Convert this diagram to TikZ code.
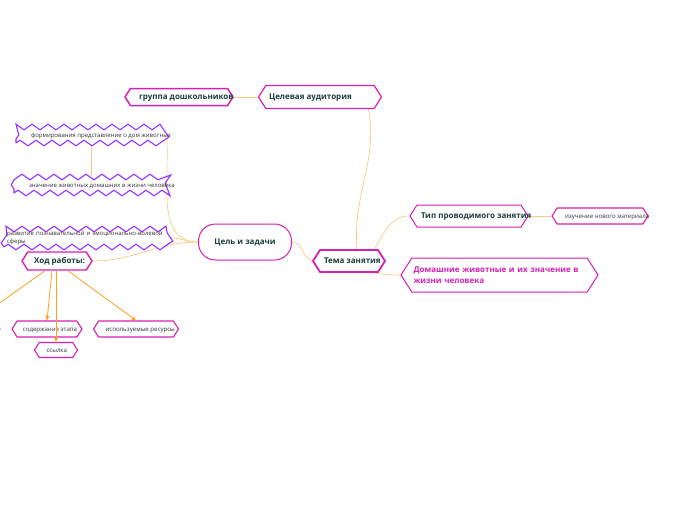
\documentclass[tikz,border=0pt]{standalone}
\usepackage{fontspec}
\setmainfont{Open Sans}
\usetikzlibrary{shapes.symbols,shapes.misc,decorations.pathmorphing,arrows.meta,backgrounds}
\definecolor{mag}{HTML}{D61FB4}
\definecolor{zig}{HTML}{9B30FF}
\definecolor{conn}{HTML}{FFC983}
\definecolor{arr}{HTML}{FFA21A}
\definecolor{tx}{HTML}{1B3F3C}
\definecolor{sm}{HTML}{333333}
\newcommand{\lft}[2]{\makebox[#1pt][l]{#2}}
\tikzset{
  hexbox/.style={signal, signal to=west and east, signal pointer angle=115, draw=mag, line width=1.2pt, fill=white, inner sep=1pt, align=left, font=\fontsize{8}{10}\selectfont\bfseries, text=tx},
  onebig/.style={text height=5.8pt, text depth=0pt},
  onesmall/.style={text height=4.4pt, text depth=0pt},
  hexsmall/.style={hexbox, onesmall, line width=1.1pt, font=\fontsize{6.1}{7}\selectfont, text=sm},
  zigbox/.style={draw=zig, line width=1.1pt, fill=white, decorate, decoration={zigzag, amplitude=2.8pt, segment length=16pt}, font=\fontsize{6}{7.5}\selectfont, text=sm, inner sep=0pt, align=left},
  conline/.style={draw=conn, line width=0.7pt},
  arrline/.style={draw=arr, line width=0.8pt, -{Stealth[length=5pt,width=4.5pt]}},
}
\begin{document}
\begin{tikzpicture}[x=1pt,y=-1pt]
\useasboundingbox (0,0) rectangle (696,520);
\path
  node[hexbox, onebig, minimum width=108, minimum height=17, line width=1.5pt] (grp) at (179,97) {\lft{80}{группа дошкольников}}
  node[hexbox, onebig, minimum width=123, minimum height=23] (aud) at (320,97) {\lft{102}{Целевая аудитория}}
  node[zigbox, onesmall, minimum width=150, minimum height=16] (z1) at (91,135) {\lft{120}{формирования представление о дом животных}}
  node[zigbox, onesmall, minimum width=154, minimum height=16] (z2) at (91,185) {\lft{124}{значение животных домашних в жизни человека}}
  node[zigbox, minimum width=166, minimum height=18, text width=160, font=\fontsize{6}{8}\selectfont] (z3) at (87,238) {развитие познавательной и эмоционально-волевой\\сферы}
  node[hexbox, onebig, minimum width=70, minimum height=18, line width=1.4pt] (hod) at (57,261) {\lft{46}{Ход работы:}}
  node[hexsmall, minimum width=70, minimum height=16] (sod) at (47,329) {\lft{48}{содержание этапа}}
  node[hexsmall, minimum width=43, minimum height=15] (ssy) at (56,350) {\lft{19}{ссылка}}
  node[hexsmall, minimum width=85, minimum height=16] (res) at (136,329) {\lft{61}{используемые ресурсы}}
  node[hexsmall, minimum width=50, minimum height=16] (offn) at (-25,329) {}
  node[draw=mag, onebig, line width=1pt, rounded corners=17pt, minimum width=93, minimum height=36, fill=white, font=\fontsize{8}{10}\selectfont\bfseries, text=tx] (goal) at (245,242) {Цель и задачи}
  node[hexbox, onebig, minimum width=72, minimum height=22, line width=1.8pt] (tema) at (349,261) {\lft{50}{Тема занятия}}
  node[hexbox, onebig, minimum width=118, minimum height=22, line width=1pt] (tip) at (469,216) {\lft{96}{Тип проводимого занятия}}
  node[hexsmall, minimum width=96, minimum height=16] (izu) at (600,216) {\lft{70}{изучение нового материала}}
  node[hexbox, minimum width=197, minimum height=34, line width=1pt, text width=172, text=mag, font=\fontsize{8}{11}\selectfont\bfseries] (dom) at (499.5,275) {Домашние животные и их значение в\\жизни человека};
\begin{scope}[on background layer]
  \draw[conline] ([xshift=8pt]tema.north) to[out=95,in=-80] ([xshift=-6pt]aud.south east);
  \draw[conline] ([xshift=-4pt]tema.north east) to[out=60,in=180] (tip.west);
  \draw[conline] ([xshift=-4pt]tema.south east) to[out=-10,in=180] (dom.west);
  \draw[conline] (tema.west) to[out=160,in=0] (goal.east);
  \draw[conline] (goal.west) to[out=180,in=-85] (z1.east);
  \draw[conline] (goal.west) to[out=180,in=0] (z3.east);
  \draw[conline] (goal.west) to[out=180,in=0] (hod.east);
  \draw[conline] (z1.south) -- (z2.north);
  \draw[conline] (grp.east) -- (aud.west);
  \draw[conline] (tip.east) -- (izu.west);
\end{scope}
  \draw[arrline] ([xshift=-5pt]hod.south) -- (sod.north);
  \draw[arrline] ([xshift=-1pt]hod.south) -- (ssy.north);
  \draw[arrline] ([xshift=11pt]hod.south) -- (res.north);
  \draw[arrline] ([xshift=-12pt]hod.south) -- (offn.north);
\end{tikzpicture}
\end{document}
